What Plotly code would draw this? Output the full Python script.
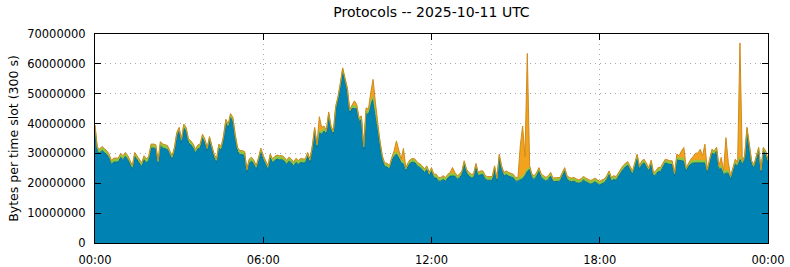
import plotly.graph_objects as go

# 5-minute slots, 00:00 .. 24:00 (289 points), values in millions of bytes
blue = [
    38.2, 30.7, 30.1, 31.0, 30.3, 29.6, 28.5, 26.3, 27.1, 27.1, 27.1, 28.7,
    27.9, 29.0, 27.9, 26.3, 24.6, 29.0, 27.9, 26.8, 25.5, 27.9, 26.8, 27.7,
    31.8, 31.8, 31.6, 26.3, 32.6, 31.8, 31.5, 31.3, 29.6, 27.9, 30.7, 35.7,
    37.4, 33.5, 38.5, 37.4, 33.5, 32.9, 31.8, 30.1, 31.5, 31.8, 35.1, 33.5,
    30.7, 34.3, 31.3, 28.5, 26.8, 31.8, 31.0, 34.6, 40.1, 38.5, 42.0, 40.7,
    35.1, 30.7, 29.6, 29.6, 29.3, 23.5, 26.8, 27.4, 26.3, 24.6, 27.4, 30.4,
    27.9, 26.3, 24.6, 28.5, 26.8, 27.7, 28.1, 27.9, 27.9, 27.4, 26.3, 27.4,
    26.8, 25.7, 27.0, 26.3, 27.0, 26.8, 26.8, 29.0, 26.8, 31.3, 37.4, 31.8,
    37.0, 36.4, 37.5, 36.5, 42.5, 37.9, 36.3, 44.6, 47.9, 52.4, 57.4, 54.0,
    50.7, 43.5, 45.1, 45.0, 45.0, 40.7, 41.3, 31.3, 43.5, 43.0, 46.5, 48.1,
    43.0, 37.9, 32.4, 27.9, 25.5, 25.5, 24.6, 27.4, 29.0, 29.8, 28.5, 26.8,
    26.5, 24.0, 25.7, 26.8, 27.1, 26.8, 25.7, 25.3, 24.6, 23.5, 24.6, 22.4,
    24.0, 21.8, 21.8, 20.7, 20.7, 21.3, 20.7, 21.8, 22.4, 22.5, 22.4, 21.3,
    21.8, 22.9, 26.3, 23.5, 22.4, 21.8, 21.8, 25.4, 22.4, 22.9, 22.9, 21.3,
    21.0, 21.0, 21.0, 24.6, 20.7, 28.5, 24.6, 22.4, 22.9, 22.4, 22.1, 21.8,
    20.7, 20.7, 21.2, 21.5, 22.5, 24.0, 24.6, 21.8, 21.3, 22.4, 24.0, 21.8,
    21.3, 20.7, 21.3, 22.4, 20.5, 20.6, 20.7, 20.7, 22.4, 24.0, 21.3, 20.7,
    20.5, 20.7, 20.2, 20.0, 20.2, 21.1, 20.5, 20.2, 19.7, 20.0, 20.5, 19.9,
    19.4, 19.9, 20.2, 21.3, 22.9, 20.7, 21.3, 21.0, 22.4, 23.5, 24.6, 25.5,
    26.0, 24.6, 22.9, 25.6, 28.5, 24.6, 26.3, 26.8, 25.1, 24.0, 26.5, 22.3,
    22.9, 23.9, 23.9, 25.6, 26.8, 26.6, 26.3, 26.3, 22.3, 27.8, 27.6, 27.4,
    27.4, 24.0, 25.7, 26.4, 26.8, 26.8, 26.8, 26.8, 26.8, 26.8, 23.5, 26.8,
    30.1, 29.6, 30.8, 24.6, 25.0, 22.9, 23.4, 23.4, 21.3, 24.0, 26.5, 25.7,
    28.0, 26.3, 27.9, 37.5, 31.3, 26.3, 25.1, 28.5, 30.8, 23.5, 30.8, 29.6,
    26.8,
]

green = [
    1.0, 1.0, 1.0, 1.0, 1.0, 1.0, 1.0, 1.0, 1.0, 1.0, 1.0, 1.0,
    1.0, 1.0, 1.0, 1.0, 1.0, 1.0, 1.0, 1.0, 1.0, 1.0, 1.0, 1.0,
    1.0, 1.0, 1.0, 1.0, 1.0, 1.0, 1.0, 1.0, 1.0, 1.0, 1.0, 1.0,
    1.0, 1.0, 1.0, 1.0, 1.0, 1.0, 1.0, 1.0, 1.0, 1.0, 1.0, 1.0,
    1.0, 1.0, 1.0, 1.0, 1.0, 1.0, 1.0, 1.0, 1.0, 1.0, 1.0, 1.0,
    1.0, 1.0, 1.0, 1.0, 1.0, 1.0, 1.0, 1.0, 1.0, 1.0, 1.0, 1.0,
    1.0, 1.0, 1.0, 1.0, 1.0, 1.0, 1.0, 1.0, 1.0, 1.0, 1.0, 1.0,
    1.0, 1.0, 1.0, 1.0, 1.0, 1.0, 1.0, 1.0, 1.0, 1.0, 1.0, 1.0,
    0.9, 0.9, 0.9, 0.9, 0.9, 0.9, 0.9, 0.9, 0.9, 0.9, 0.9, 0.9,
    0.9, 0.9, 0.9, 0.9, 0.9, 0.9, 0.9, 0.9, 0.9, 0.9, 0.9, 0.9,
    0.9, 0.9, 0.9, 0.9, 0.9, 0.9, 0.9, 0.9, 0.9, 0.9, 0.9, 0.9,
    0.9, 0.9, 0.9, 0.9, 0.9, 0.9, 0.9, 0.9, 0.9, 0.9, 0.9, 0.9,
    0.9, 0.9, 0.9, 0.9, 0.9, 0.9, 0.9, 0.9, 0.9, 0.9, 0.9, 0.9,
    0.9, 0.9, 0.9, 0.9, 0.9, 0.9, 0.9, 0.9, 0.9, 0.9, 0.9, 0.9,
    0.9, 0.9, 0.9, 0.9, 0.9, 0.9, 0.9, 0.9, 0.9, 0.9, 0.9, 0.9,
    0.9, 0.9, 0.9, 0.9, 0.9, 0.9, 0.9, 0.9, 0.9, 0.9, 0.9, 0.9,
    0.9, 0.9, 0.9, 0.9, 0.9, 0.9, 0.9, 0.9, 0.9, 0.9, 0.9, 0.9,
    0.9, 0.9, 0.9, 0.9, 0.9, 0.9, 0.9, 0.9, 0.9, 0.9, 0.9, 0.9,
    0.9, 0.9, 0.9, 0.9, 0.9, 0.9, 0.9, 0.9, 0.9, 0.9, 0.9, 0.9,
    0.9, 0.9, 0.9, 0.9, 0.9, 0.9, 0.9, 0.9, 0.9, 0.9, 0.9, 0.9,
    0.9, 0.9, 0.9, 0.9, 0.9, 0.9, 0.9, 0.9, 0.9, 0.9, 0.9, 0.9,
    0.9, 0.9, 0.9, 0.9, 0.9, 0.9, 0.9, 0.9, 0.9, 0.9, 0.9, 0.9,
    0.9, 0.9, 0.9, 0.9, 0.9, 0.9, 0.9, 0.9, 0.9, 0.9, 0.9, 0.9,
    0.9, 0.9, 0.9, 0.9, 0.9, 0.9, 0.9, 0.9, 0.9, 0.9, 0.9, 0.9,
    0.9,
]

orange = [
    0.35, 0.35, 0.35, 0.35, 0.35, 0.35, 0.35, 0.35, 0.35, 0.35, 0.35, 0.35,
    0.35, 0.35, 0.35, 0.35, 0.35, 0.35, 0.35, 0.35, 0.35, 0.35, 0.35, 0.35,
    0.35, 0.35, 0.35, 0.35, 0.35, 0.35, 0.35, 0.35, 0.35, 0.35, 0.35, 0.35,
    0.35, 0.35, 0.35, 0.35, 0.35, 0.35, 0.35, 0.35, 0.35, 0.35, 0.35, 0.35,
    0.35, 0.35, 0.35, 0.35, 0.35, 0.35, 0.35, 0.35, 0.35, 0.35, 0.35, 0.35,
    0.35, 0.35, 0.35, 0.35, 0.35, 0.35, 0.35, 0.35, 0.35, 0.35, 0.35, 0.35,
    0.35, 0.35, 0.35, 0.35, 0.35, 0.35, 0.35, 0.35, 0.35, 0.35, 0.35, 0.35,
    0.35, 0.35, 0.35, 0.35, 0.35, 0.35, 0.35, 0.35, 0.35, 0.35, 0.35, 0.35,
    4.4, 1.4, 0.8, 0.35, 0.5, 0.35, 0.35, 0.35, 0.35, 0.35, 0.35, 0.35,
    0.35, 0.35, 0.35, 1.7, 0.5, 0.35, 0.35, 0.35, 0.9, 0.9, 2.9, 5.8,
    3.1, 0.35, 0.35, 0.35, 0.35, 0.35, 0.35, 0.35, 1.0, 3.5, 1.8, 0.35,
    4.3, 0.35, 0.35, 0.35, 0.35, 0.35, 0.35, 0.35, 0.35, 0.35, 0.35, 0.35,
    0.35, 0.35, 0.35, 0.35, 0.35, 0.35, 0.35, 0.35, 0.35, 1.9, 0.35, 0.35,
    0.35, 0.35, 0.35, 0.35, 0.35, 0.35, 0.35, 0.35, 0.35, 0.35, 0.35, 0.35,
    0.35, 0.35, 0.35, 0.35, 0.35, 0.35, 0.35, 0.35, 0.35, 0.35, 0.35, 0.35,
    0.35, 0.35, 10.5, 16.8, 5.6, 38.6, 0.35, 0.35, 0.35, 0.35, 0.35, 0.35,
    0.35, 0.35, 0.35, 0.35, 0.35, 0.35, 0.35, 0.35, 0.35, 0.35, 0.35, 0.35,
    0.35, 0.35, 0.35, 0.35, 0.35, 0.35, 0.35, 0.35, 0.35, 0.35, 0.35, 0.35,
    0.35, 0.35, 0.35, 0.35, 0.35, 0.35, 0.35, 0.35, 0.35, 0.35, 0.35, 0.35,
    0.35, 0.35, 0.35, 0.35, 0.35, 0.35, 0.35, 0.35, 0.35, 0.35, 0.35, 0.35,
    0.35, 0.5, 0.5, 0.35, 0.35, 0.35, 0.35, 0.35, 0.35, 1.1, 0.7, 2.6,
    3.7, 0.35, 0.35, 0.8, 1.3, 2.4, 2.4, 3.7, 1.5, 5.4, 0.35, 0.35,
    0.4, 0.35, 0.4, 0.35, 2.8, 0.35, 11.0, 2.7, 0.35, 0.35, 0.7, 0.35,
    38.1, 0.35, 0.35, 0.35, 0.35, 0.35, 0.35, 0.35, 0.35, 0.35, 0.35, 0.35,
    0.35,
]

tick_hours = [0, 6, 12, 18, 24]
tick_labels = ["00:00", "06:00", "12:00", "18:00", "00:00"]
y_ticks = [0, 10000000, 20000000, 30000000, 40000000, 50000000, 60000000, 70000000]

hours = [i / 12 for i in range(len(blue))]
M = 1e6

FONT = "DejaVu Sans"

fig = go.Figure()
fig.add_trace(go.Scatter(
    x=hours, y=[v * M for v in blue], stackgroup="s", mode="lines",
    line=dict(color="#0a6d93", width=1), fillcolor="#0083b3", name="blue"))
fig.add_trace(go.Scatter(
    x=hours, y=[v * M for v in green], stackgroup="s", mode="lines",
    line=dict(color="#8cc63f", width=1), fillcolor="#8cc63f", name="green"))
fig.add_trace(go.Scatter(
    x=hours, y=[v * M for v in orange], stackgroup="s", mode="lines",
    line=dict(color="#d08a1c", width=1), fillcolor="#f2a21c", name="orange"))

fig.update_layout(
    width=790, height=267,
    margin=dict(l=95, r=22, t=34, b=24, pad=0),
    paper_bgcolor="white", plot_bgcolor="white",
    showlegend=False,
    font=dict(family=FONT, size=11, color="black"),
    title=dict(text="Protocols -- 2025-10-11 UTC", x=0.5, xref="paper",
               y=1 - 12 / 267, yref="container", yanchor="middle",
               xanchor="center", font=dict(family=FONT, size=14, color="black")),
)
fig.update_xaxes(
    range=[0, 24], tickvals=tick_hours, ticktext=tick_labels,
    showline=True, linecolor="black", linewidth=1, mirror="allticks",
    ticks="inside", ticklen=6, tickcolor="black",
    showgrid=True, gridcolor="#a8a8a8", griddash="1px,4px", gridwidth=1,
    zeroline=False, tickfont=dict(family=FONT, size=11.5),
    automargin=False, ticklabelstandoff=6,
)
fig.update_yaxes(
    range=[0, 70000000], tickvals=y_ticks, tickformat="d",
    showline=True, linecolor="black", linewidth=1, mirror="allticks",
    ticks="inside", ticklen=6, tickcolor="black",
    showgrid=True, gridcolor="#a8a8a8", griddash="1px,4px", gridwidth=1,
    zeroline=False, tickfont=dict(family=FONT, size=11.5),
    ticklabelstandoff=6, automargin=False,
    title=dict(text="Bytes per time slot (300 s)", standoff=5,
               font=dict(family=FONT, size=12.5)),
)

fig.write_html("out.html")
